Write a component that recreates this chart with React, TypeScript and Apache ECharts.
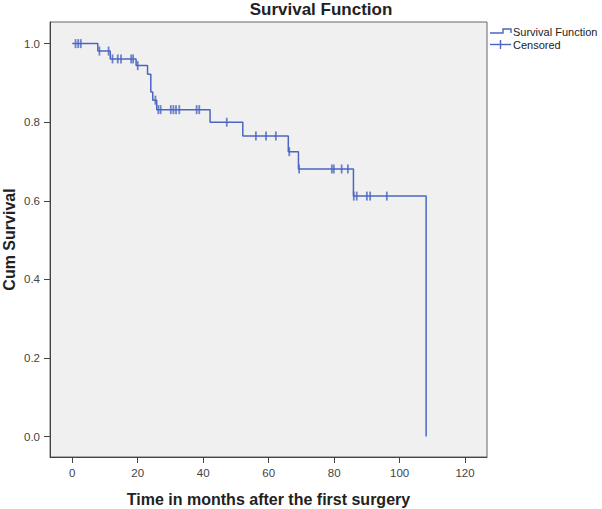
import React, { useEffect, useRef } from "react";
import * as echarts from "echarts";

// Kaplan-Meier step points (time in months, cumulative survival)
const eventTimes = [0, 7.8, 11.6, 19.5, 23.0, 24.0, 24.6, 25.8, 42.1, 52.1, 66.0, 69.1, 85.9, 108.1];
const eventSurvival = [1.0, 0.981, 0.961, 0.944, 0.922, 0.877, 0.856, 0.832, 0.8, 0.765, 0.725, 0.681, 0.612, 0.0];

// Censored observations
const censorTimes = [
  1.0, 1.8, 2.6, 8.3, 11.1, 12.3, 13.9, 14.9, 18.0, 18.6, 20.0, 25.4, 26.3, 27.0, 30.1, 30.9, 31.7,
  32.7, 38.0, 38.8, 47.2, 56.1, 59.2, 62.2, 66.3, 69.3, 79.3, 79.9, 82.3, 84.2, 86.0, 86.9, 90.0,
  91.0, 96.1,
];
const censorSurvival = [
  1.0, 1.0, 1.0, 0.981, 0.981, 0.961, 0.961, 0.961, 0.961, 0.961, 0.944, 0.856, 0.832, 0.832, 0.832,
  0.832, 0.832, 0.832, 0.832, 0.832, 0.8, 0.765, 0.765, 0.765, 0.725, 0.681, 0.681, 0.681, 0.681,
  0.681, 0.612, 0.612, 0.612, 0.612, 0.612,
];

const xTicks = [0, 20, 40, 60, 80, 100, 120];
const yTicks = [0, 0.2, 0.4, 0.6, 0.8, 1.0];

const titleText = "Survival Function";
const xName = "Time in months after the first surgery";
const yName = "Cum Survival";
const legendNames = ["Survival Function", "Censored"];

export default function App() {
  const ref = useRef<HTMLDivElement>(null);

  useEffect(() => {
    if (!ref.current) return;
    const chart = echarts.init(ref.current, null, { renderer: "svg" });
    const blue = "#4a66c2";
    const font = "Liberation Sans";
    const axisColor = "#444";

    chart.setOption({
      animation: false,
      backgroundColor: "#ffffff",
      textStyle: { fontFamily: font },
      grid: {
        left: 50,
        top: 22,
        right: 115,
        bottom: 52,
        containLabel: false,
        outerBoundsMode: "none",
        show: true,
        backgroundColor: "#f0f0f0",
        borderColor: "#666",
        borderWidth: 1,
      },
      xAxis: {
        type: "value",
        min: -6.8,
        max: 126.7,
        name: xName,
        nameLocation: "middle",
        nameGap: 34,
        nameMoveOverlap: false,
        nameTextStyle: { fontSize: 16, fontWeight: "bold", color: "#222", fontFamily: font },
        axisLine: { show: true, onZero: false, lineStyle: { color: axisColor } },
        axisTick: { show: true, length: 6, customValues: xTicks, lineStyle: { color: axisColor } },
        axisLabel: { customValues: xTicks, fontSize: 11.5, color: "#444", margin: 10, fontFamily: font },
        splitLine: { show: false },
      },
      yAxis: {
        type: "value",
        min: -0.052,
        max: 1.055,
        name: yName,
        nameLocation: "middle",
        nameGap: 33,
        nameMoveOverlap: false,
        nameTextStyle: { fontSize: 16, fontWeight: "bold", color: "#222", fontFamily: font },
        axisLine: { show: true, onZero: false, lineStyle: { color: axisColor } },
        axisTick: { show: true, length: 6, customValues: yTicks, lineStyle: { color: axisColor } },
        axisLabel: {
          customValues: yTicks,
          fontSize: 11.5,
          color: "#444",
          margin: 10,
          fontFamily: font,
          formatter: (v: number) => v.toFixed(1),
        },
        splitLine: { show: false },
      },
      series: [
        {
          name: legendNames[0],
          type: "line",
          step: "end",
          showSymbol: false,
          data: eventTimes.map((t, i) => [t, eventSurvival[i]]),
          lineStyle: { color: blue, width: 1.5 },
          itemStyle: { color: blue },
        },
        {
          name: legendNames[1],
          type: "scatter",
          symbol: "rect",
          symbolSize: [1.8, 9],
          data: censorTimes.map((t, i) => [t, censorSurvival[i]]),
          itemStyle: { color: blue },
        },
      ],
      graphic: [
        {
          type: "text",
          x: 321,
          y: 9,
          style: {
            text: titleText,
            fill: "#222",
            font: `bold 17px "${font}"`,
            align: "center",
            verticalAlign: "middle",
          },
        },
        {
          type: "polyline",
          shape: { points: [[490, 33], [503, 33], [503, 29], [511, 29], [511, 33]] },
          style: { stroke: blue, lineWidth: 1.4, fill: null },
        },
        {
          type: "text",
          x: 513,
          y: 31.5,
          style: { text: legendNames[0], fill: "#222", font: `11px "${font}"`, verticalAlign: "middle" },
        },
        {
          type: "line",
          shape: { x1: 490, y1: 44.5, x2: 511, y2: 44.5 },
          style: { stroke: blue, lineWidth: 1.4 },
        },
        {
          type: "line",
          shape: { x1: 500.5, y1: 40, x2: 500.5, y2: 49 },
          style: { stroke: blue, lineWidth: 1.4 },
        },
        {
          type: "text",
          x: 513,
          y: 44.5,
          style: { text: legendNames[1], fill: "#222", font: `11px "${font}"`, verticalAlign: "middle" },
        },
      ],
    });

    return () => chart.dispose();
  }, []);

  return (
    <div
      ref={ref}
      style={{ position: "absolute", left: 0, top: 0, width: 602, height: 509 }}
    />
  );
}
